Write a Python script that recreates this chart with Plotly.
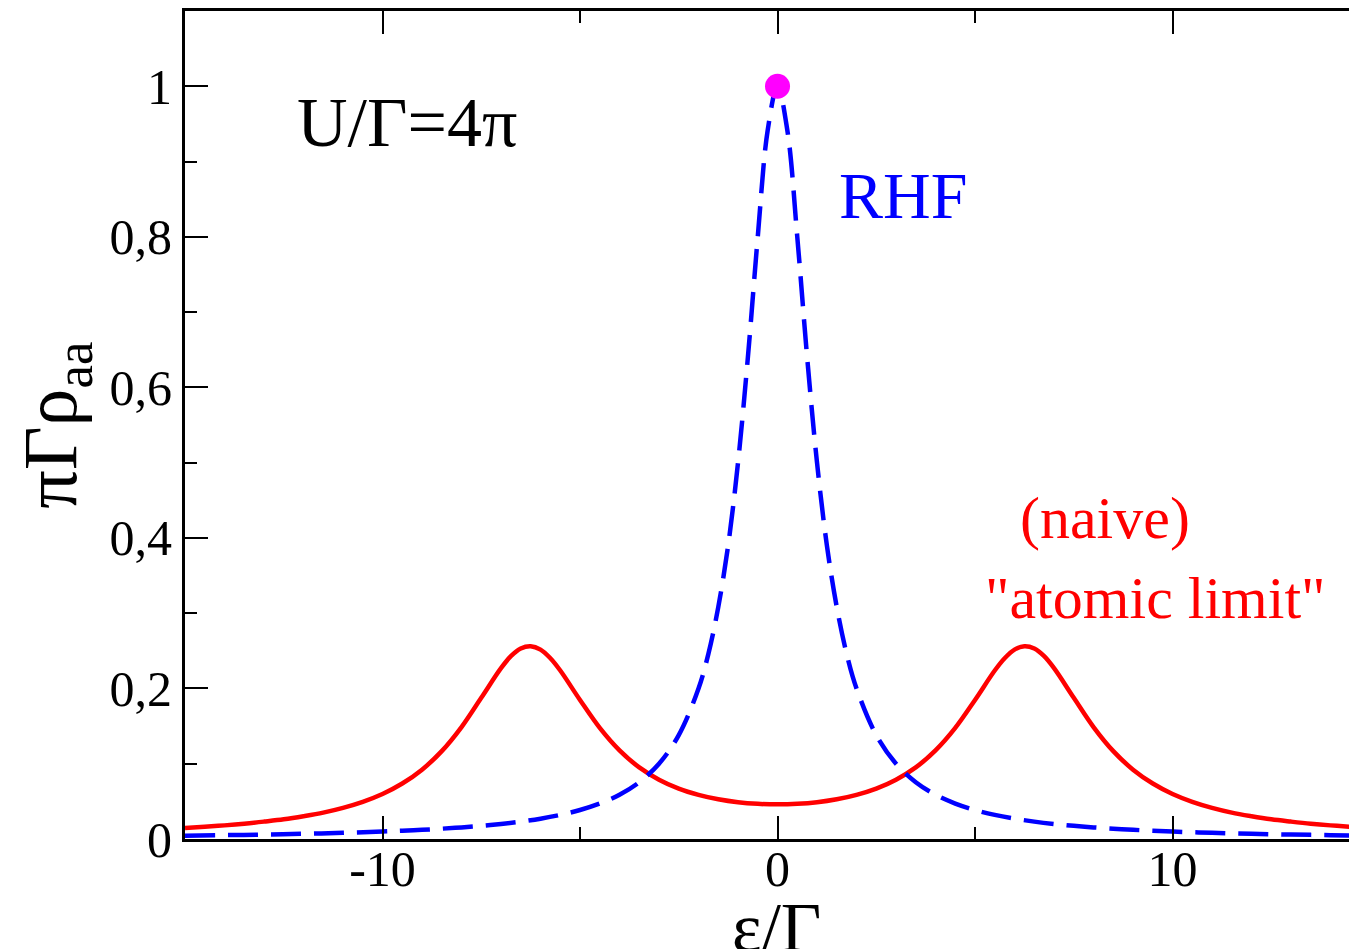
import plotly.graph_objects as go

# ---- data ----
rhf_x = [-15, -14, -13, -12, -11, -10, -9.5, -9, -8.5, -8, -7.5, -7, -6.5, -6, -5.5, -5,
         -4.5, -4, -3.5, -3, -2.5, -2, -1.75, -1.5, -1.25, -1, -0.75, -0.5, -0.25, 0,
         0.25, 0.5, 0.75, 1, 1.25, 1.5, 1.75, 2, 2.5, 3, 3.5, 4, 4.5, 5, 5.5, 6, 6.5,
         7, 7.5, 8, 8.5, 9, 9.5, 10, 11, 12, 13, 14, 15]
rhf_y = [0.0044, 0.0051, 0.0059, 0.0069, 0.0082, 0.0099, 0.0110, 0.0122, 0.0137, 0.0154,
         0.0175, 0.0200, 0.0231, 0.0270, 0.0320, 0.0385, 0.0471, 0.0588, 0.0755, 0.1000,
         0.138, 0.200, 0.246, 0.308, 0.390, 0.500, 0.640, 0.800, 0.941, 1.000,
         0.941, 0.800, 0.640, 0.500, 0.390, 0.308, 0.246, 0.200, 0.138, 0.1000, 0.0755,
         0.0588, 0.0471, 0.0385, 0.0320, 0.0270, 0.0231, 0.0200, 0.0175, 0.0154, 0.0137,
         0.0122, 0.0110, 0.0099, 0.0082, 0.0069, 0.0059, 0.0051, 0.0044]

atomic_x = [-15, -14.5, -14, -13.5, -13, -12.5, -12, -11.5, -11, -10.5, -10, -9.5, -9, -8.5,
            -8, -7.5, -7, -6.75, -6.5, -6.25, -6, -5.75, -5.5, -5, -4.5, -4, -3.5, -3, -2.5,
            -2, -1.5, -1, -0.5, 0, 0.5, 1, 1.5, 2, 2.5, 3, 3.5, 4, 4.5, 5, 5.5, 5.75, 6,
            6.25, 6.5, 6.75, 7, 7.5, 8, 8.5, 9, 9.5, 10, 10.5, 11, 11.5, 12, 12.5, 13, 13.5,
            14, 14.5, 15]
atomic_y = [0.0147, 0.0163, 0.0181, 0.0203, 0.0231, 0.0262, 0.0303, 0.0351, 0.0414, 0.0494,
            0.0598, 0.0737, 0.0921, 0.1167, 0.1487, 0.1876, 0.2270, 0.2429, 0.2531, 0.2561,
            0.2516, 0.2401, 0.2238, 0.1847, 0.1476, 0.1177, 0.0951, 0.0788, 0.0669, 0.0586,
            0.0527, 0.0488, 0.0467, 0.0460, 0.0467, 0.0488, 0.0527, 0.0586, 0.0669, 0.0788,
            0.0951, 0.1177, 0.1476, 0.1847, 0.2238, 0.2401, 0.2516, 0.2561, 0.2531, 0.2429,
            0.2270, 0.1876, 0.1487, 0.1167, 0.0921, 0.0737, 0.0598, 0.0494, 0.0414, 0.0351,
            0.0303, 0.0262, 0.0231, 0.0203, 0.0181, 0.0163, 0.0147]

peak_x = [0]
peak_y = [1.0]

x_tickvals = [-10, 0, 10]
x_ticktext = ["-10", "0", "10"]
y_tickvals = [0, 0.2, 0.4, 0.6, 0.8, 1.0]
y_ticktext = ["0", "0,2", "0,4", "0,6", "0,8", "1"]

FONT = "Liberation Serif, Times New Roman, serif"

fig = go.Figure()
fig.add_trace(go.Scatter(x=atomic_x, y=atomic_y, mode="lines",
                         line=dict(color="#ff0000", width=4.5, shape="spline"),
                         showlegend=False, hoverinfo="skip"))
fig.add_trace(go.Scatter(x=rhf_x, y=rhf_y, mode="lines",
                         line=dict(color="#0000ff", width=4.5, shape="spline", dash="30px,13px"),
                         showlegend=False, hoverinfo="skip"))
fig.add_trace(go.Scatter(x=peak_x, y=peak_y, mode="markers",
                         marker=dict(color="#ff00ff", size=25, line=dict(width=0)),
                         showlegend=False, hoverinfo="skip"))

axis_common = dict(showgrid=False, zeroline=False, ticks="inside", tickcolor="black",
                   tickwidth=2, ticklen=23, linecolor="black", linewidth=3,
                   tickfont=dict(family=FONT, size=50, color="black"))

fig.update_layout(
    width=1349, height=941,
    margin=dict(l=177, r=0, t=3, b=110),
    paper_bgcolor="white", plot_bgcolor="white",
    separators=",.",
    xaxis=dict(range=[-15, 14.67], tickmode="array", tickvals=x_tickvals, ticktext=x_ticktext,
               showline=True, mirror="ticks", ticklabelstandoff=-16,
               minor=dict(ticks="inside", dtick=5, tick0=0, ticklen=12, tickwidth=2, tickcolor="black"),
               automargin=False, **axis_common),
    yaxis=dict(range=[0, 1.1], tickmode="array", tickvals=y_tickvals, ticktext=y_ticktext,
               showline=True, mirror=False,
               minor=dict(ticks="inside", dtick=0.1, tick0=0, ticklen=12, tickwidth=2, tickcolor="black"),
               title=dict(text="πΓρ<sub>aa</sub>", font=dict(family=FONT, size=76, color="black"), standoff=26),
               automargin=False, **axis_common),
    yaxis2=dict(range=[0, 1.1], overlaying="y", side="right", showgrid=False, zeroline=False,
                showline=False, ticks="inside", ticklen=11, tickwidth=2, tickcolor="black",
                tickmode="array", tickvals=y_tickvals, showticklabels=False),
    annotations=[
        dict(x=0.505, y=-0.058, xref="paper", yref="paper", text="ε/Γ", showarrow=False,
             xanchor="center", yanchor="top", font=dict(family=FONT, size=70, color="black")),
        dict(x=-12.22, y=0.952, xref="x", yref="y", text="U/Γ=4π", showarrow=False,
             xanchor="left", yanchor="middle", font=dict(family=FONT, size=70, color="black")),
        dict(x=1.5, y=0.855, xref="x", yref="y", text="RHF", showarrow=False,
             xanchor="left", yanchor="middle", font=dict(family=FONT, size=66, color="#0000ff")),
        dict(x=8.29, y=0.427, xref="x", yref="y", text="(naive)", showarrow=False,
             xanchor="center", yanchor="middle", font=dict(family=FONT, size=60, color="#ff0000")),
        dict(x=9.56, y=0.32, xref="x", yref="y", text="\"atomic limit\"", showarrow=False,
             xanchor="center", yanchor="middle", font=dict(family=FONT, size=60, color="#ff0000")),
    ],
)

fig.write_html("out.html")
